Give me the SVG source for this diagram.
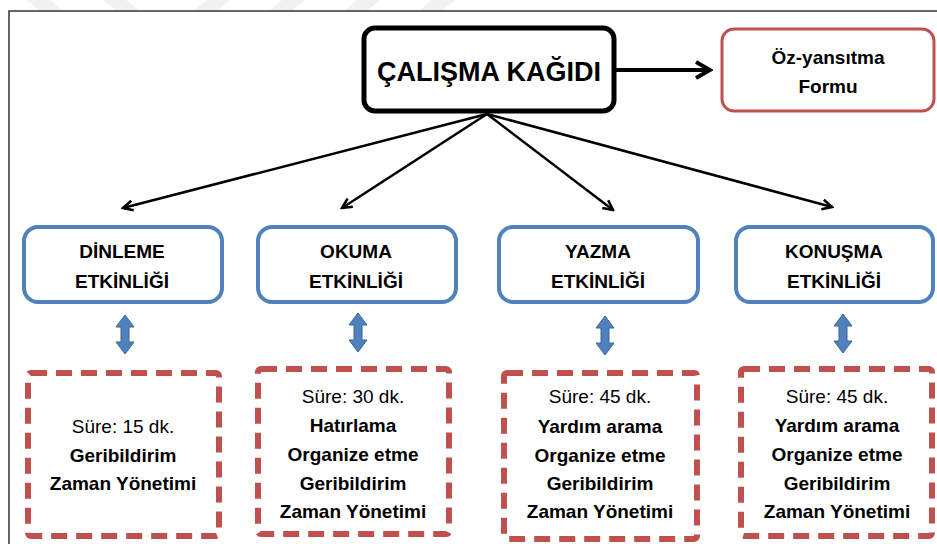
<svg xmlns="http://www.w3.org/2000/svg" xmlns:xlink="http://www.w3.org/1999/xlink" width="937" height="544" viewBox="0 0 937 544">
<style>
.t{font-family:"Liberation Sans",Arial,sans-serif;font-weight:bold;fill:#000;text-anchor:middle}
.r{font-weight:normal}
.blue{fill:#fff;stroke:#4f81bd;stroke-width:4}
.dash{fill:#fff;stroke:#c0504d;stroke-width:6;stroke-dasharray:16 9}
.conn{stroke:#000;stroke-width:2.5;fill:none}
.wm{fill:#f1f1f1}
</style>
<defs>
<marker id="ah" viewBox="0 0 12 12" refX="10.5" refY="6" markerWidth="13" markerHeight="13" markerUnits="userSpaceOnUse" orient="auto">
<path d="M1.5,1.5 L10.5,6 L1.5,10.5" fill="none" stroke="#000" stroke-width="2.4" stroke-linejoin="miter"/>
</marker>
<marker id="ahb" viewBox="0 0 20 20" refX="17" refY="10" markerWidth="20" markerHeight="20" markerUnits="userSpaceOnUse" orient="auto">
<path d="M3,2 L17,10 L3,18" fill="none" stroke="#000" stroke-width="4"/>
</marker>
<path id="dbl" d="M0,0 L9,12 L4,12 L4,27 L9,27 L0,39 L-9,27 L-4,27 L-4,12 L-9,12 Z" fill="#4f81bd" stroke="#3a6496" stroke-width="1"/>
</defs>
<rect width="937" height="544" fill="#fff"/>
<g id="watermark">
<polygon class="wm" points="27,0 50,0 62,10 39,10"/>
<polygon class="wm" points="103,0 126,0 139,10 116,10"/>
<polygon class="wm" points="207,0 230,0 218,10 195,10"/>
<polygon class="wm" points="282,0 305,0 293,10 270,10"/>
<polygon class="wm" points="357,0 380,0 368,10 345,10"/>
<polygon class="wm" points="432,0 455,0 443,10 420,10"/>
</g>
<g id="frame">
<path d="M9,544 L9,11 L937,11" fill="none" stroke="#333" stroke-width="1.5"/>
</g>
<g id="connectors">
<line class="conn" x1="615" y1="70" x2="710" y2="70" style="stroke-width:4" marker-end="url(#ahb)"/>
<line class="conn" x1="487" y1="114" x2="123" y2="208" marker-end="url(#ah)"/>
<line class="conn" x1="487" y1="114" x2="342" y2="208" marker-end="url(#ah)"/>
<line class="conn" x1="487" y1="114" x2="613" y2="210" marker-end="url(#ah)"/>
<line class="conn" x1="487" y1="114" x2="832" y2="207" marker-end="url(#ah)"/>
<use xlink:href="#dbl" x="125" y="315"/>
<use xlink:href="#dbl" x="358" y="313"/>
<use xlink:href="#dbl" x="605" y="316"/>
<use xlink:href="#dbl" x="843" y="314"/>
</g>
<g id="calisma">
<rect x="364" y="28" width="250" height="83" rx="11" fill="#fff" stroke="#000" stroke-width="5"/>
<text class="t" x="489" y="81" font-size="27">ÇALIŞMA KAĞIDI</text>
</g>
<g id="ozyansitma">
<rect x="722" y="29" width="212" height="82" rx="12" fill="#fff" stroke="#c0504d" stroke-width="3"/>
<text class="t" x="828" y="64" font-size="19">Öz-yansıtma</text>
<text class="t" x="828" y="93" font-size="19">Formu</text>
</g>
<g id="dinleme">
<rect class="blue" x="24" y="227" width="198" height="75" rx="14"/>
<text class="t" x="122" y="258" font-size="19">DİNLEME</text>
<text class="t" x="122" y="288" font-size="19">ETKİNLİĞİ</text>
</g>
<g id="okuma">
<rect class="blue" x="258" y="227" width="198" height="75" rx="14"/>
<text class="t" x="356" y="258" font-size="19">OKUMA</text>
<text class="t" x="356" y="288" font-size="19">ETKİNLİĞİ</text>
</g>
<g id="yazma">
<rect class="blue" x="499" y="227" width="199" height="75" rx="14"/>
<text class="t" x="598" y="258" font-size="19">YAZMA</text>
<text class="t" x="598" y="288" font-size="19">ETKİNLİĞİ</text>
</g>
<g id="konusma">
<rect class="blue" x="736" y="227" width="197" height="75" rx="14"/>
<text class="t" x="834" y="258" font-size="19">KONUŞMA</text>
<text class="t" x="834" y="288" font-size="19">ETKİNLİĞİ</text>
</g>
<g id="detay1">
<rect class="dash" x="28" y="373" width="191" height="163" rx="3"/>
<text class="t r" x="123" y="433" font-size="19">Süre: 15 dk.</text>
<text class="t" x="123" y="462" font-size="19">Geribildirim</text>
<text class="t" x="123" y="490" font-size="19">Zaman  Yönetimi</text>
</g>
<g id="detay2">
<rect class="dash" x="258" y="369" width="191" height="165" rx="3"/>
<text class="t r" x="353" y="403" font-size="19">Süre: 30 dk.</text>
<text class="t" x="353" y="432" font-size="19">Hatırlama</text>
<text class="t" x="353" y="461" font-size="19">Organize etme</text>
<text class="t" x="353" y="490" font-size="19">Geribildirim</text>
<text class="t" x="353" y="518" font-size="19">Zaman  Yönetimi</text>
</g>
<g id="detay3">
<rect class="dash" x="504" y="373" width="193" height="166" rx="3"/>
<text class="t r" x="600" y="403" font-size="19">Süre: 45 dk.</text>
<text class="t" x="600" y="433" font-size="19">Yardım arama</text>
<text class="t" x="600" y="462" font-size="19">Organize etme</text>
<text class="t" x="600" y="490" font-size="19">Geribildirim</text>
<text class="t" x="600" y="518" font-size="19">Zaman  Yönetimi</text>
</g>
<g id="detay4">
<rect class="dash" x="741" y="369" width="191" height="167" rx="3"/>
<text class="t r" x="837" y="403" font-size="19">Süre: 45 dk.</text>
<text class="t" x="837" y="432" font-size="19">Yardım arama</text>
<text class="t" x="837" y="461" font-size="19">Organize etme</text>
<text class="t" x="837" y="490" font-size="19">Geribildirim</text>
<text class="t" x="837" y="518" font-size="19">Zaman  Yönetimi</text>
</g>
</svg>
